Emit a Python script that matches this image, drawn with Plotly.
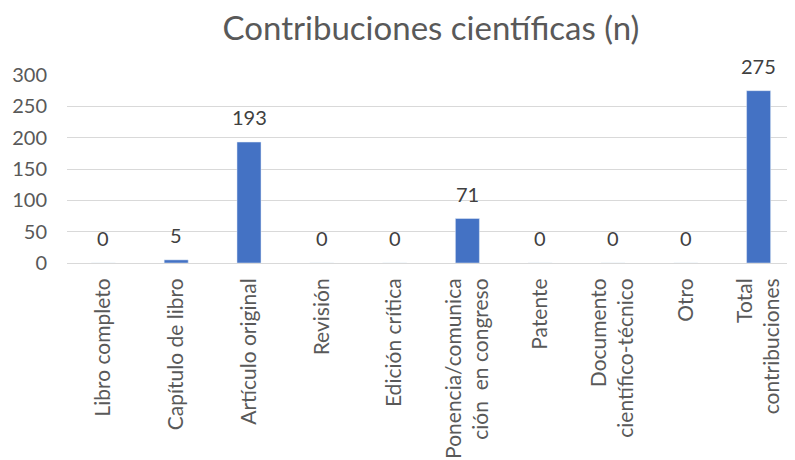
import plotly.graph_objects as go

categories = ["Libro completo", "Capítulo de libro", "Artículo original", "Revisión",
              "Edición crítica", "Ponencia/comunica<br>ción  en congreso", "Patente",
              "Documento<br>científico-técnico", "Otro", "Total<br>contribuciones"]
values = [0, 5, 193, 0, 0, 71, 0, 0, 0, 275]
y_ticks = [0, 50, 100, 150, 200, 250, 300]

FONT = "Lato, Carlito, sans-serif"

fig = go.Figure(go.Bar(
    x=categories, y=values, width=0.33,
    marker=dict(color="#4472C4"),
    hoverinfo="x+y",
))
for c, v in zip(categories, values):
    fig.add_annotation(x=c, y=v, text=str(v), showarrow=False, yanchor="bottom",
                       yshift=11, font=dict(family=FONT, size=20, color="#404040"))

# page body has an 8px margin, so the figure is 787x452
fig.update_layout(
    width=787, height=452,
    margin=dict(l=59, r=0, t=67, b=197),
    paper_bgcolor="white", plot_bgcolor="white",
    title=dict(text="Contribuciones científicas (n)", x=0.5, xanchor="center",
               xref="paper", y=1 - 20 / 452, yanchor="middle",
               font=dict(family=FONT, size=33, color="#595959")),
    showlegend=False,
    font=dict(family=FONT, color="#595959"),
)
fig.update_yaxes(range=[0, 300], tickvals=y_ticks, showgrid=True, gridcolor="#D9D9D9",
                 gridwidth=1, zeroline=False, showline=False, automargin=False,
                 tickfont=dict(size=20, color="#595959"), ticks="", ticklabelstandoff=19)
fig.update_xaxes(tickangle=-90, tickfont=dict(size=21, color="#595959"), showline=True,
                 linecolor="#D9D9D9", ticks="", ticklabelstandoff=6, automargin=False)
fig.write_html("out.html")
